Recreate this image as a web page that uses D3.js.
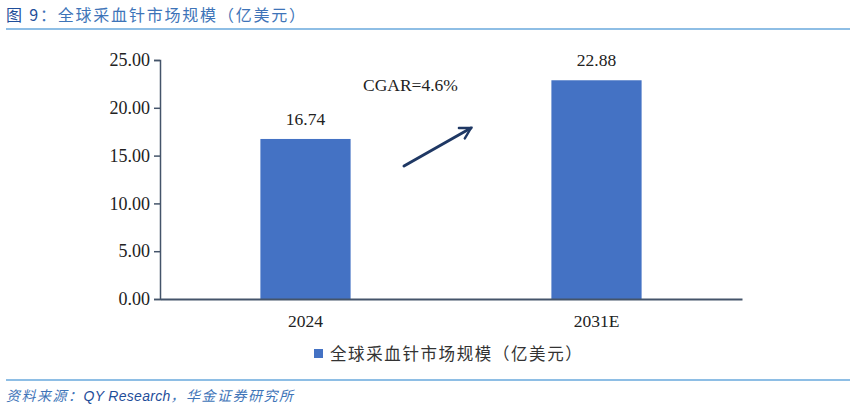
<!DOCTYPE html>
<html><head><meta charset="utf-8">
<script src="https://cdn.jsdelivr.net/npm/d3@7/dist/d3.min.js"></script>
<style>body{margin:0;background:#fff}svg{display:block}</style>
</head><body>
<svg id="c" width="856" height="409"></svg>
<script>
const categories = ["2024", "2031E"];
const values = [16.74, 22.88];
const valueLabels = ["16.74", "22.88"];
const yTicks = [0, 5, 10, 15, 20, 25];
const seriesName = "全球采血针市场规模（亿美元）";
const titlePrefix = "图 9";
const titleText = "：全球采血针市场规模（亿美元）";
const cagrText = "CGAR=4.6%";
const sourcePrefix = "资料来源：";
const sourceMid = "QY Research";
const sourceSuffix = "，华金证券研究所";

const svg = d3.select("#c");
const serif = "'Liberation Serif','Times New Roman',serif";
const cjk = "'Noto Sans CJK SC',sans-serif";

// title
const t = svg.append("text").attr("x", 6).attr("y", 21).attr("font-size", 16).attr("font-family", cjk).attr("letter-spacing", 1.8);
t.append("tspan").attr("fill", "#1f4e9a").text(titlePrefix);
t.append("tspan").attr("fill", "#3e74b8").text(titleText);
svg.append("line").attr("x1", 6).attr("x2", 850).attr("y1", 29).attr("y2", 29).attr("stroke", "#69a8dc").attr("stroke-width", 1.5);

const x = d3.scaleBand().domain(categories).range([160, 742]).paddingInner(0.69).paddingOuter(0.345);
const y = d3.scaleLinear().domain([0, 25]).range([299, 60]);

// y axis
const ya = svg.append("g").attr("transform", "translate(160,0)")
  .call(d3.axisLeft(y).tickValues(yTicks).tickFormat(d3.format(".2f")).tickSize(6).tickPadding(4));
ya.select(".domain").attr("stroke", "#44546a").attr("stroke-width", 1.5);
ya.selectAll(".tick line").attr("stroke", "#44546a").attr("stroke-width", 1.5);
ya.selectAll("text").attr("font-family", serif).attr("font-size", 18).attr("fill", "#222");

// bars
svg.selectAll("rect.bar").data(values).enter().append("rect")
  .attr("class", "bar")
  .attr("x", (d, i) => x(categories[i]))
  .attr("y", d => y(d))
  .attr("width", x.bandwidth())
  .attr("height", d => y(0) - y(d))
  .attr("fill", "#4472c4");

// x axis
const xa = svg.append("g").attr("transform", "translate(0,299)")
  .call(d3.axisBottom(x).tickSize(0).tickPadding(16));
xa.select(".domain").attr("stroke", "#44546a").attr("stroke-width", 2);
xa.selectAll("text").attr("font-family", serif).attr("font-size", 17.5).attr("fill", "#222");

// value labels
svg.selectAll("text.vl").data(values).enter().append("text")
  .attr("class", "vl")
  .attr("x", (d, i) => x(categories[i]) + x.bandwidth() / 2)
  .attr("y", d => y(d) - 14)
  .attr("text-anchor", "middle")
  .attr("font-family", serif).attr("font-size", 17.5).attr("fill", "#222")
  .text((d, i) => valueLabels[i]);

// CAGR annotation
svg.append("text").attr("x", 363).attr("y", 91).attr("font-family", serif).attr("font-size", 17.5).attr("fill", "#222").text(cagrText);
const defs = svg.append("defs");
defs.append("marker").attr("id", "ah").attr("viewBox", "0 0 10 10").attr("refX", 8).attr("refY", 5)
  .attr("markerWidth", 5).attr("markerHeight", 5).attr("orient", "auto")
  .append("path").attr("d", "M1,1 L8,5 L1,9").attr("fill", "none").attr("stroke", "#1f3864").attr("stroke-width", 1.6).attr("stroke-linecap", "round");
svg.append("line").attr("x1", 404).attr("y1", 166).attr("x2", 471).attr("y2", 128)
  .attr("stroke", "#1f3864").attr("stroke-width", 3).attr("stroke-linecap", "round").attr("marker-end", "url(#ah)");

// legend
svg.append("rect").attr("x", 314).attr("y", 349).attr("width", 9).attr("height", 9).attr("fill", "#4472c4");
svg.append("text").attr("x", 330).attr("y", 360).attr("font-family", cjk).attr("font-size", 16.5).attr("letter-spacing", 1.6).attr("fill", "#333").text(seriesName);

// source
svg.append("line").attr("x1", 6).attr("x2", 850).attr("y1", 380).attr("y2", 380).attr("stroke", "#69a8dc").attr("stroke-width", 1.5);
const s = svg.append("text").attr("x", 6).attr("y", 401).attr("font-size", 14).attr("font-style", "italic").attr("fill", "#3e74b8");
s.append("tspan").attr("font-family", cjk).attr("letter-spacing", 1.5).text(sourcePrefix);
s.append("tspan").attr("font-family", "'Liberation Sans',Arial,sans-serif").attr("fill", "#1f4e9a").attr("letter-spacing", 0.3).text(sourceMid);
s.append("tspan").attr("font-family", cjk).attr("letter-spacing", 1.5).text(sourceSuffix);
</script>
</body></html>
